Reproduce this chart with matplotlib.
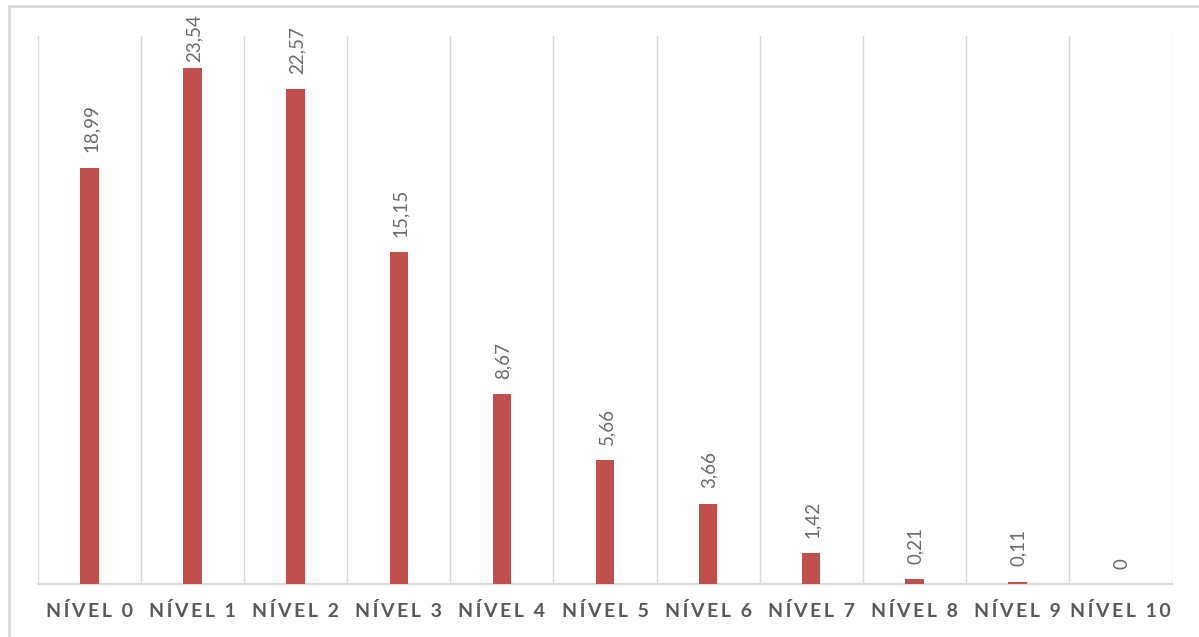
import matplotlib
matplotlib.use("Agg")
import matplotlib.pyplot as plt
from matplotlib.patches import Rectangle
from matplotlib.ticker import FixedLocator

categories = ["NÍVEL 0", "NÍVEL 1", "NÍVEL 2", "NÍVEL 3", "NÍVEL 4", "NÍVEL 5",
              "NÍVEL 6", "NÍVEL 7", "NÍVEL 8", "NÍVEL 9", "NÍVEL 10"]
values = [18.99, 23.54, 22.57, 15.15, 8.67, 5.66, 3.66, 1.42, 0.21, 0.11, 0]
value_labels = ["18,99", "23,54", "22,57", "15,15", "8,67", "5,66",
                "3,66", "1,42", "0,21", "0,11", "0"]

W, H = 1199, 637
fig = plt.figure(figsize=(W / 100, H / 100), dpi=100)
fig.patch.set_facecolor("white")

# chart frame (runs off the right and bottom edges)
fig.patches.append(Rectangle((9 / W, -0.05), 1.1, 1 - 6 / H + 0.05,
                             transform=fig.transFigure, fill=False,
                             edgecolor="#d9d9d9", linewidth=2.0))

ax = fig.add_axes([38 / W, (H - 584) / H, (1172 - 38) / W, (584 - 36) / H])
x = list(range(len(categories)))
ax.bar(x, values, width=0.18, color="#C0504D", zorder=3)

ax.set_xlim(-0.5, len(categories) - 0.5)
ax.set_ylim(0, 25)

# vertical separators between categories
ax.xaxis.set_minor_locator(FixedLocator([i - 0.5 for i in range(len(categories) + 1)]))
ax.grid(which="minor", axis="x", color="#d9d9d9", linewidth=1.0, zorder=0)
ax.tick_params(which="both", length=0)
ax.set_yticks([])

# letter-spaced category labels
THIN = "\u2009"
spaced = [THIN.join(c) for c in categories]
ax.set_xticks(x)
ax.set_xticklabels(spaced, fontsize=14, color="#595959", fontweight="bold",
                   family=["Lato", "DejaVu Sans"])
ax.tick_params(axis="x", pad=13)

for s in ["top", "right", "left"]:
    ax.spines[s].set_visible(False)
ax.spines["bottom"].set_color("#d9d9d9")
ax.spines["bottom"].set_linewidth(1.5)

labels = []
for xi, v, lab in zip(x, values, value_labels):
    t = ax.annotate(lab, (xi, v), xytext=(1, 11), textcoords="offset points",
                    rotation=90, ha="center", va="bottom", fontsize=13.5,
                    color="#6a6a6a", family=["Lato", "DejaVu Sans"],
                    annotation_clip=False)
    labels.append(t)

# keep value labels inside the chart frame
fig.canvas.draw()
renderer = fig.canvas.get_renderer()
limit = H - 14
for t in labels:
    bb = t.get_window_extent(renderer)
    if bb.y1 > limit:
        shift = (bb.y1 - limit) * 72 / fig.dpi
        ox, oy = t.xyann
        t.xyann = (ox, oy - shift)

fig.savefig("out.png", dpi=100, facecolor="white")
